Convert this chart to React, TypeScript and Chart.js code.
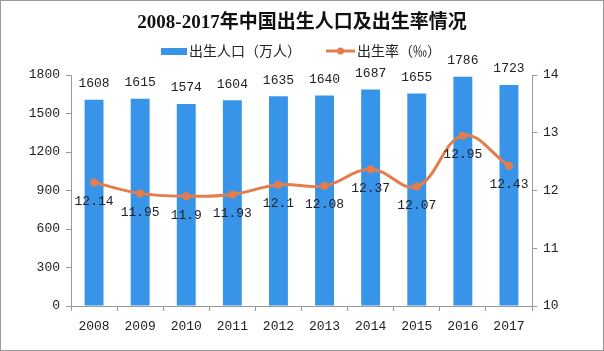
import React, { useEffect, useRef } from "react";
import { Chart, registerables } from "chart.js";

Chart.register(...registerables);

const titleText = "2008-2017年中国出生人口及出生率情况";
const barSeriesName = "出生人口（万人）";
const lineSeriesName = "出生率（‰）";
const years = ["2008", "2009", "2010", "2011", "2012", "2013", "2014", "2015", "2016", "2017"];
const births = [1608, 1615, 1574, 1604, 1635, 1640, 1687, 1655, 1786, 1723];
const rates = [12.14, 11.95, 11.9, 11.93, 12.1, 12.08, 12.37, 12.07, 12.95, 12.43];
const leftAxis = { min: 0, max: 1800, step: 300 };
const rightAxis = { min: 10, max: 14, step: 1 };

const BLUE = "#3794E8";
const ORANGE = "#E47D4B";
const NUM_FONT = "'Liberation Mono', 'DejaVu Sans Mono', monospace";
const CJK_FONT = "'Noto Sans CJK SC', sans-serif";

const labelPlugin = {
  id: "customLabels",
  afterDatasetsDraw(chart: any) {
    const ctx = chart.ctx;
    ctx.save();
    ctx.font = `13px ${NUM_FONT}`;
    ctx.fillStyle = "#222";
    ctx.textAlign = "center";
    ctx.textBaseline = "middle";
    chart.data.datasets.forEach((ds: any, di: number) => {
      const meta = chart.getDatasetMeta(di);
      meta.data.forEach((el: any, i: number) => {
        const v = ds.data[i];
        if (ds.type === "bar") {
          ctx.fillText(String(v), el.x, el.y - 16);
        } else {
          ctx.fillText(String(v), el.x, el.y + 19);
        }
      });
    });
    ctx.restore();
  },
  afterDraw(chart: any) {
    const ctx = chart.ctx;
    ctx.save();
    ctx.font = `bold 19px 'Liberation Serif', ${CJK_FONT}`;
    ctx.fillStyle = "#111";
    ctx.textAlign = "center";
    ctx.textBaseline = "middle";
    ctx.fillText(titleText, 301, 22);
    const ly = 50;
    ctx.font = `14px ${CJK_FONT}`;
    ctx.textAlign = "left";
    ctx.fillStyle = BLUE;
    ctx.fillRect(160, ly - 3, 26, 7);
    ctx.fillStyle = "#222";
    ctx.fillText(barSeriesName, 188, ly);
    ctx.strokeStyle = ORANGE;
    ctx.lineWidth = 3;
    ctx.beginPath();
    ctx.moveTo(325, ly);
    ctx.lineTo(354, ly);
    ctx.stroke();
    ctx.fillStyle = ORANGE;
    ctx.beginPath();
    ctx.arc(339.5, ly, 3.5, 0, Math.PI * 2);
    ctx.fill();
    ctx.fillStyle = "#222";
    ctx.fillText(lineSeriesName, 356, ly);
    ctx.restore();
  },
};

export default function App() {
  const ref = useRef<HTMLCanvasElement>(null);
  useEffect(() => {
    if (!ref.current) return;
    const tickFont = { family: NUM_FONT, size: 13 };
    const chart = new Chart(ref.current, {
      type: "bar",
      data: {
        labels: years,
        datasets: [
          {
            type: "line",
            label: lineSeriesName,
            data: rates,
            yAxisID: "y1",
            borderColor: ORANGE,
            backgroundColor: ORANGE,
            borderWidth: 3,
            tension: 0.4,
            pointRadius: 4,
            pointBorderWidth: 0,
            pointBackgroundColor: ORANGE,
            order: 0,
          } as any,
          {
            type: "bar",
            label: barSeriesName,
            data: births,
            yAxisID: "y",
            backgroundColor: BLUE,
            categoryPercentage: 1,
            barPercentage: 0.41,
            order: 1,
          } as any,
        ],
      },
      options: {
        responsive: false,
        animation: false,
        devicePixelRatio: 1,
        layout: { padding: { top: 74, left: 0, right: 0, bottom: 0 } },
        plugins: { legend: { display: false }, title: { display: false }, tooltip: { enabled: false } },
        scales: {
          x: {
            grid: { display: true, drawOnChartArea: false, drawTicks: true, tickLength: 5, color: "#999", offset: true },
            border: { display: true, color: "#999" },
            ticks: { font: tickFont, color: "#222", padding: 8, maxRotation: 0 },
            afterFit: (s: any) => { s.height = 44; },
          },
          y: {
            position: "left",
            min: leftAxis.min,
            max: leftAxis.max,
            grid: { display: true, drawOnChartArea: false, drawTicks: true, tickLength: 5, color: "#999" },
            border: { display: true, color: "#999" },
            ticks: { stepSize: leftAxis.step, font: tickFont, color: "#222", padding: 6, callback: (v: any) => String(v) },
            afterFit: (s: any) => { s.width = 70; },
          },
          y1: {
            position: "right",
            min: rightAxis.min,
            max: rightAxis.max,
            grid: { display: true, drawOnChartArea: false, drawTicks: true, tickLength: 5, color: "#999" },
            border: { display: true, color: "#999" },
            ticks: { stepSize: rightAxis.step, font: tickFont, color: "#222", padding: 6, callback: (v: any) => String(v) },
            afterFit: (s: any) => { s.width = 71; },
          },
        },
      },
      plugins: [labelPlugin],
    });
    return () => chart.destroy();
  }, []);
  return (
    <div
      style={{
        position: "fixed",
        left: 0,
        top: 0,
        width: 604,
        height: 351,
        background: "#fff",
        boxSizing: "border-box",
        border: "1px solid #999",
        overflow: "hidden",
      }}
    >
      <canvas ref={ref} width={602} height={349} style={{ display: "block" }} />
    </div>
  );
}
